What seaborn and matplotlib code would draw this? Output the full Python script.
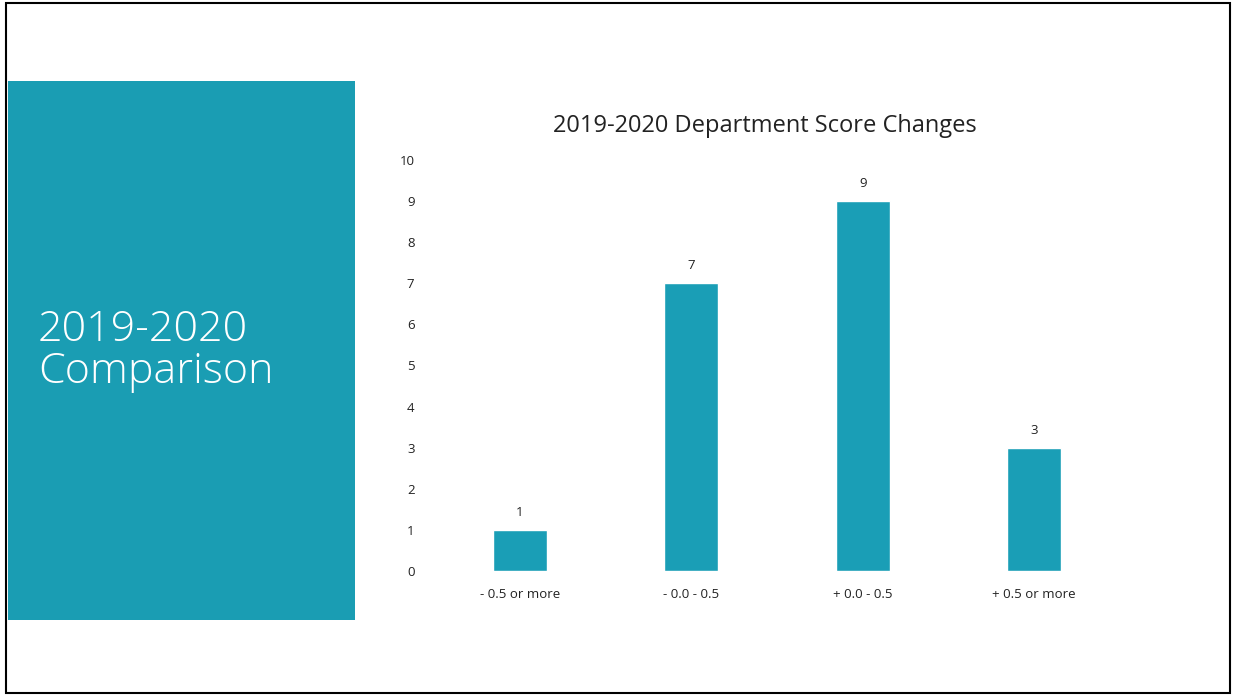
import matplotlib
matplotlib.use("Agg")
import matplotlib.pyplot as plt
import seaborn as sns
import pandas as pd
from matplotlib.patches import Rectangle

categories = ["- 0.5 or more", "- 0.0 - 0.5", "+ 0.0 - 0.5", "+ 0.5 or more"]
counts = [1, 7, 9, 3]
y_ticks = [0, 1, 2, 3, 4, 5, 6, 7, 8, 9, 10]
chart_title = "2019-2020 Department Score Changes"
side_title = "2019-2020\nComparison"

teal = "#1A9DB3"
bar_color = "#1A9EB6"

sns.set_theme(style="white")
plt.rcParams["font.family"] = ["Open Sans", "DejaVu Sans"]

fig = plt.figure(figsize=(12.33, 6.96), dpi=100)
fig.patch.set_facecolor("white")

# slide frame
fig.patches.append(Rectangle((6/1233, 3/696), 1224/1233, 690/696, transform=fig.transFigure,
                             fill=False, edgecolor="black", linewidth=1.5, zorder=0))
# teal side panel
fig.patches.append(Rectangle((8/1233, 76/696), 347/1233, 539/696, transform=fig.transFigure,
                             facecolor=teal, edgecolor="none", zorder=0))
fig.text(38/1233, 345/696, side_title, transform=fig.transFigure, color="white",
         fontsize=31, fontweight="light", va="center", ha="left", linespacing=0.97)

ax = fig.add_axes([434/1233, 125/696, 686/1233, 411/696])
df = pd.DataFrame({"category": categories, "count": counts})
sns.barplot(data=df, x="category", y="count", color=bar_color, width=0.315,
            saturation=1, ax=ax)
for c in ax.containers:
    ax.bar_label(c, labels=[str(v) for v in counts], padding=8, fontsize=9.5, color="#222222")

ax.set_xlim(-0.5, 3.5)
ax.set_ylim(0, 10)
ax.set_yticks(y_ticks)
ax.set_yticklabels([str(t) for t in y_ticks])
ax.tick_params(axis="y", length=0, pad=14, labelsize=9.5, labelcolor="#222222")
ax.tick_params(axis="x", length=0, pad=12, labelsize=9.5, labelcolor="#222222")
ax.set_xlabel("")
ax.set_ylabel("")
for s in ax.spines.values():
    s.set_visible(False)
ax.set_facecolor("none")
ax.set_title(chart_title, fontsize=17, color="#222222", pad=20, x=0.483)

fig.savefig("out.png", dpi=100, facecolor="white")
